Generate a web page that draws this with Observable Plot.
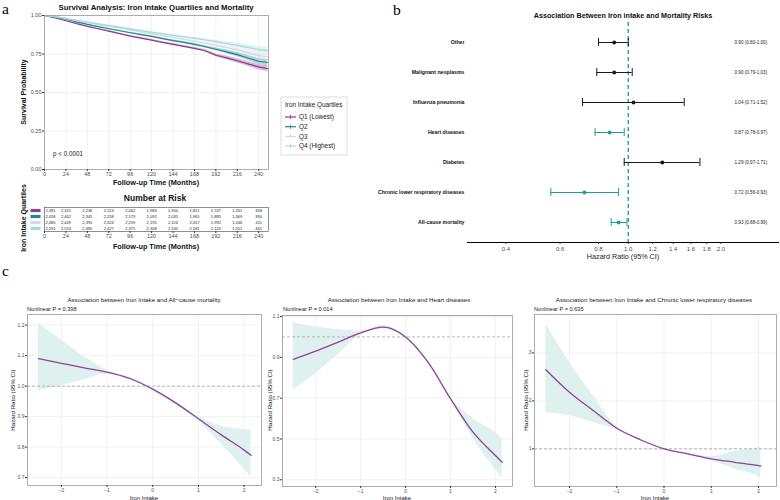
<!DOCTYPE html>
<html><head><meta charset="utf-8">
<script src="https://cdn.jsdelivr.net/npm/d3@7"></script>
<script src="https://cdn.jsdelivr.net/npm/@observablehq/plot@0.6"></script>
<style>
body{margin:0;background:#fff;}
#root{position:relative;width:780px;height:500px;overflow:hidden;background:#fff;}
#root svg{position:absolute;}
</style></head><body><div id="root"></div>
<script>
// ---------- Panel a: survival ----------
const months = [0,12,24,36,48,60,72,84,96,108,120,132,144,156,168,180,192,204,216,228,240,250];
const survQ1 = [1.000,0.984,0.966,0.947,0.929,0.914,0.899,0.882,0.866,0.853,0.840,0.826,0.813,0.800,0.787,0.771,0.742,0.725,0.706,0.686,0.666,0.655];
const survQ2 = [1.000,0.990,0.976,0.959,0.942,0.928,0.914,0.901,0.888,0.876,0.864,0.850,0.837,0.825,0.812,0.797,0.781,0.764,0.746,0.724,0.703,0.695];
const survQ3 = [1.000,0.992,0.980,0.966,0.953,0.941,0.929,0.917,0.905,0.893,0.881,0.869,0.857,0.845,0.833,0.820,0.806,0.792,0.777,0.759,0.740,0.732];
const survQ4 = [1.000,0.993,0.982,0.969,0.957,0.946,0.935,0.924,0.913,0.902,0.891,0.881,0.871,0.861,0.851,0.841,0.830,0.818,0.806,0.793,0.779,0.772];
const survCiHalf = [0,0.001,0.002,0.002,0.003,0.003,0.004,0.004,0.004,0.005,0.005,0.005,0.006,0.006,0.007,0.008,0.010,0.012,0.014,0.016,0.018,0.020];
const quartiles = ["Q1 (Lowest)","Q2","Q3","Q4 (Highest)"];
const quartileColors = ["#8E3B91","#1A8A8D","#D8D4EE","#A3DCD6"];
const riskTimes = [0,24,48,72,96,120,144,168,192,216,240];
const riskQ1 = [2381,2321,2236,2153,2062,1983,1900,1821,1747,1261,358];
const riskQ2 = [2458,2402,2345,2258,2173,2092,2035,1965,1885,1369,390];
const riskQ3 = [2480,2449,2391,2324,2259,2195,2124,2057,1992,1446,411];
const riskQ4 = [2591,2553,2485,2427,2375,2308,2240,2181,2120,1551,461];

// ---------- Panel b: forest ----------
const causes = ["Other","Malignant neoplasms","Influenza pneumonia","Heart diseases","Diabetes","Chronic lower respiratory diseases","All-cause mortality"];
const causeHR = [0.90,0.90,1.04,0.87,1.29,0.72,0.93];
const causeLo = [0.80,0.79,0.71,0.78,0.97,0.56,0.88];
const causeHi = [1.00,1.03,1.52,0.97,1.71,0.93,0.99];
const forestTicks = [0.4,0.6,0.8,1.0,1.2,1.4,1.6,1.8,2.0];

// ---------- Panel c: restricted cubic splines ----------
const c1Title = "Association between Iron Intake and All\u2212cause mortality";
const c1P = "Nonlinear P = 0.398";
const c1X  = [-2.5,-2,-1.5,-1,-0.5,0,0.5,1,1.5,2,2.15];
const c1HR = [1.090,1.075,1.060,1.046,1.025,0.990,0.945,0.893,0.840,0.790,0.773];
const c1Lo = [0.985,1.002,1.021,1.040,1.020,0.986,0.940,0.885,0.810,0.728,0.703];
const c1Hi = [1.205,1.151,1.097,1.052,1.030,0.994,0.950,0.900,0.868,0.857,0.855];
const c1Ticks = [0.7,0.8,0.9,1.0,1.1,1.2];

const c2Title = "Association between Iron Intake and Heart diseases";
const c2P = "Nonlinear P = 0.014";
const c2X  = [-2.5,-2,-1.5,-1,-0.5,0,0.5,1,1.5,2,2.15];
const c2HR = [0.890,0.930,0.975,1.020,1.048,1.000,0.876,0.697,0.533,0.419,0.386];
const c2Lo = [0.743,0.820,0.915,1.010,1.040,0.995,0.870,0.690,0.505,0.350,0.308];
const c2Hi = [1.070,1.050,1.035,1.028,1.056,1.005,0.882,0.705,0.600,0.530,0.500];
const c2Ticks = [0.3,0.5,0.7,0.9,1.1];

const c3Title = "Association between Iron Intake and Chronic lower respiratory diseases";
const c3P = "Nonlinear P = 0.635";
const c3X  = [-2.5,-2,-1.5,-1,-0.5,0,0.5,1,1.5,2,2.05];
const c3HR = [2.65,2.18,1.80,1.43,1.19,1.00,0.895,0.79,0.72,0.65,0.64];
const c3Lo = [1.75,1.69,1.55,1.40,1.17,0.995,0.88,0.75,0.58,0.42,0.39];
const c3Hi = [3.60,2.80,2.11,1.46,1.21,1.005,0.91,0.84,0.95,1.03,1.05];
const c3Ticks = [1,2,3];
const splineXTicks = [-2,-1,0,1,2];

// ---------- build ----------
const SANS = '"Liberation Sans", Arial, Helvetica, sans-serif';
const SERIF = '"Liberation Serif", "DejaVu Serif", serif';
const root = document.getElementById("root");
function place(svg, left, top) { svg.style.left = left + "px"; svg.style.top = top + "px"; root.appendChild(svg); }
const baseStyle = {fontFamily: SANS, background: "transparent", color: "#4d4d4d", overflow: "visible"};
const colorScale = {domain: quartiles, range: quartileColors};

const survSeries = [survQ1, survQ2, survQ3, survQ4];
const survData = quartiles.flatMap((q, qi) => months.map((t, i) => ({
  t, q, s: survSeries[qi][i], lo: survSeries[qi][i] - survCiHalf[i], hi: survSeries[qi][i] + survCiHalf[i]
})));

place(Plot.plot({
  width: 300, height: 190, marginLeft: 44, marginRight: 32, marginTop: 15, marginBottom: 21,
  x: {domain: [0, 251], label: null},
  y: {domain: [0, 1], label: null},
  color: colorScale,
  style: baseStyle,
  marks: [
    Plot.gridX(riskTimes, {stroke: "#ebebeb", strokeOpacity: 1, strokeWidth: 0.7}),
    Plot.gridY([0.25, 0.5, 0.75], {stroke: "#ebebeb", strokeOpacity: 1, strokeWidth: 0.7}),
    Plot.areaY(survData, {x: "t", y1: "lo", y2: "hi", z: "q", fill: "q", fillOpacity: 0.35}),
    Plot.line(survData, {x: "t", y: "s", z: "q", stroke: "q", strokeWidth: 1.2}),
    Plot.frame({stroke: "#9a9a9a", strokeWidth: 0.8}),
    Plot.axisX({ticks: riskTimes, tickSize: 2, tickPadding: 1, fontSize: 5.5, label: null, stroke: "#333"}),
    Plot.axisY({ticks: [0, 0.25, 0.5, 0.75, 1], tickFormat: ".2f", tickSize: 2, tickPadding: 1, fontSize: 5.5, label: null, stroke: "#333"})
  ]
}), 0, 0);

const riskRows = [riskQ1, riskQ2, riskQ3, riskQ4];
const riskData = quartiles.flatMap((q, qi) => riskTimes.map((t, i) => ({t, q, n: riskRows[qi][i]})));
const barSymbol = {draw(context) { context.rect(-5, -1.6, 10, 3.2); }};
place(Plot.plot({
  width: 300, height: 42, marginLeft: 44, marginRight: 32, marginTop: 4, marginBottom: 14,
  x: {domain: [0, 251], label: null},
  y: {domain: quartiles, type: "band", padding: 0, label: null, axis: null},
  color: colorScale,
  style: baseStyle,
  marks: [
    Plot.frame({stroke: "#444", strokeWidth: 0.6}),
    Plot.text(riskData.filter(d => d.t > 0), {x: "t", y: "q", text: "n", fontSize: 4, fill: "#222"}),
    Plot.text(riskData.filter(d => d.t === 0), {x: "t", y: "q", text: "n", fontSize: 4, fill: "#222", textAnchor: "start", dx: 1}),
    Plot.dot(quartiles, {y: d => d, frameAnchor: "left", dx: -9, symbol: barSymbol, fill: d => d, stroke: null, r: 5}),
    Plot.axisX({ticks: riskTimes, tickSize: 2, tickPadding: 1, fontSize: 5.5, label: null, stroke: "#333"})
  ]
}), 0, 203);

const forest = causes.map((c, i) => ({
  cause: c, hr: causeHR[i], lo: causeLo[i], hi: causeHi[i],
  col: causeHi[i] < 1 ? "#24999A" : "#1a1a1a",
  label: `${causeHR[i].toFixed(2)} (${causeLo[i].toFixed(2)}-${causeHi[i].toFixed(2)})`
}));
place(Plot.plot({
  width: 420, height: 262, marginLeft: 107, marginRight: 2, marginTop: 22, marginBottom: 20,
  x: {type: "log", domain: [0.3, 3.08], label: null},
  y: {domain: causes, type: "point", padding: 0.587, label: null},
  style: baseStyle,
  marks: [
    Plot.ruleX([1], {stroke: "#2A9FA0", strokeDasharray: "4,3", strokeWidth: 1.4}),
    Plot.ruleY(forest, {y: "cause", x1: "lo", x2: "hi", stroke: "col", strokeWidth: 1}),
    Plot.ruleX(forest, {x: "lo", y1: "cause", y2: "cause", insetTop: -4, insetBottom: -4, stroke: "col", strokeWidth: 1}),
    Plot.ruleX(forest, {x: "hi", y1: "cause", y2: "cause", insetTop: -4, insetBottom: -4, stroke: "col", strokeWidth: 1}),
    Plot.dot(forest, {x: "hr", y: "cause", r: 2, fill: "col", stroke: null}),
    Plot.text(forest, {y: "cause", frameAnchor: "right", textAnchor: "start", dx: -44, text: "label", fontSize: 4.6, fill: "#222"}),
    Plot.axisY({tickSize: 0, tickPadding: 3, fontSize: 5.2, fontWeight: "bold", fill: "#111", label: null}),
    Plot.frame({anchor: "bottom", stroke: "#000", strokeWidth: 1.1}),
    Plot.axisX({ticks: forestTicks, tickFormat: ".1f", tickSize: 2, tickPadding: 2, fontSize: 6, label: null, stroke: "#333"})
  ]
}), 360, 0);

function splinePlot(xs, hr, lo, hi, yDomain, yTicks, yFmt, width, mL, mR, mT, mB) {
  const data = xs.map((x, i) => ({x, hr: hr[i], lo: lo[i], hi: hi[i]}));
  return Plot.plot({
    width, height: 205, marginLeft: mL, marginRight: mR, marginTop: mT, marginBottom: mB,
    x: {domain: [-2.74, 2.38], label: null},
    y: {domain: yDomain, label: null},
    style: baseStyle,
    marks: [
      Plot.gridX(splineXTicks, {stroke: "#ebebeb", strokeOpacity: 1, strokeWidth: 0.7}),
      Plot.gridY(yTicks, {stroke: "#ebebeb", strokeOpacity: 1, strokeWidth: 0.7}),
      Plot.areaY(data, {x: "x", y1: "lo", y2: "hi", fill: "#DAF0EC", fillOpacity: 0.9, curve: "monotone-x"}),
      Plot.ruleY([1], {stroke: "#9a9a9a", strokeDasharray: "3,2", strokeWidth: 0.7}),
      Plot.line(data, {x: "x", y: "hr", stroke: "#93409C", strokeWidth: 1.3, curve: "monotone-x"}),
      Plot.frame({stroke: "#9a9a9a", strokeWidth: 0.8}),
      Plot.axisX({ticks: splineXTicks, tickFormat: "d", tickSize: 2, tickPadding: 1, fontSize: 5, label: null, stroke: "#333"}),
      Plot.axisY({ticks: yTicks, tickFormat: yFmt, tickSize: 2, tickPadding: 1, fontSize: 5, label: null, stroke: "#333"})
    ]
  });
}
place(splinePlot(c1X, c1HR, c1Lo, c1Hi, [0.674, 1.235], c1Ticks, ".1f", 262, 27, 1, 19, 15), 0, 295);
place(splinePlot(c2X, c2HR, c2Lo, c2Hi, [0.267, 1.105], c2Ticks, ".1f", 258, 20, 8, 20, 14), 262, 295);
place(splinePlot(c3X, c3HR, c3Lo, c3Hi, [0.215, 3.8], c3Ticks, "d", 260, 14, 4, 19, 14), 520, 295);

// ---------- overlay texts ----------
const ov = d3.select(root).append("svg").attr("width", 780).attr("height", 500)
  .style("left", "0px").style("top", "0px").style("pointer-events", "none");
function txt(s, x, y, o = {}) {
  const t = ov.append("text").attr("x", x).attr("y", y).text(s)
    .attr("font-size", o.size || 7).attr("font-weight", o.weight || "normal")
    .attr("text-anchor", o.anchor || "start").attr("fill", o.fill || "#111")
    .attr("font-family", o.family || SANS);
  if (o.rotate) t.attr("transform", `rotate(-90 ${x} ${y})`);
  return t;
}
txt("a", 2, 14, {size: 15.5, family: SERIF, fill: "#000"});
txt("b", 393, 14.5, {size: 15.5, family: SERIF, fill: "#000"});
txt("c", 2, 276, {size: 15.5, family: SERIF, fill: "#000"});

txt("Survival Analysis: Iron Intake Quartiles and Mortality", 156, 9.5, {size: 7.8, weight: "bold", anchor: "middle"});
txt("Survival Probability", 26, 92, {size: 7, weight: "bold", anchor: "middle", rotate: true});
txt("p < 0.0001", 53, 155.5, {size: 6.3, fill: "#222"});
txt("Follow-up Time (Months)", 156, 185, {size: 7.3, weight: "bold", anchor: "middle"});
// legend
ov.append("rect").attr("x", 281).attr("y", 97).attr("width", 66).attr("height", 58)
  .attr("fill", "#fff").attr("stroke", "#cfcfcf").attr("stroke-width", 0.7);
txt("Iron Intake Quartiles", 285, 106.5, {size: 6.4, fill: "#222"});
quartiles.forEach((q, i) => {
  const cy = 117 + i * 9.7;
  ov.append("line").attr("x1", 285).attr("x2", 296).attr("y1", cy).attr("y2", cy).attr("stroke", quartileColors[i]).attr("stroke-width", 1.2);
  ov.append("line").attr("x1", 290.5).attr("x2", 290.5).attr("y1", cy - 2.2).attr("y2", cy + 2.2).attr("stroke", quartileColors[i]).attr("stroke-width", 0.8);
  txt(q, 299, cy + 2.2, {size: 6.4, fill: "#222"});
});
txt("Number at Risk", 155, 201, {size: 8.5, weight: "bold", anchor: "middle"});
txt("Iron Intake Quartiles", 26, 218, {size: 7, weight: "bold", anchor: "middle", rotate: true});
txt("Follow-up Time (Months)", 156, 248.5, {size: 7.3, weight: "bold", anchor: "middle"});

txt("Association Between Iron intake and Mortality Risks", 623, 18, {size: 7.2, weight: "bold", anchor: "middle"});
txt("Hazard Ratio (95% CI)", 623, 259, {size: 7.2, anchor: "middle", fill: "#222"});

[[c1Title, c1P, 144, 27, 15], [c2Title, c2P, 399, 283, 272], [c3Title, c3P, 654, 534, 527.5]].forEach(([title, p, cx, px, yx]) => {
  txt(title, cx, 302, {size: 6.2, anchor: "middle", fill: "#1a1a1a"});
  txt(p, px, 311, {size: 5.6, fill: "#1a1a1a"});
  txt("Hazard Ratio (95% CI)", yx, 400, {size: 6.1, anchor: "middle", rotate: true, fill: "#1a1a1a"});
});
txt("Iron Intake", 144, 499.5, {size: 6, anchor: "middle", fill: "#1a1a1a"});
txt("Iron Intake", 397, 499.5, {size: 6, anchor: "middle", fill: "#1a1a1a"});
txt("Iron Intake", 655, 499.5, {size: 6, anchor: "middle", fill: "#1a1a1a"});
</script></body></html>
